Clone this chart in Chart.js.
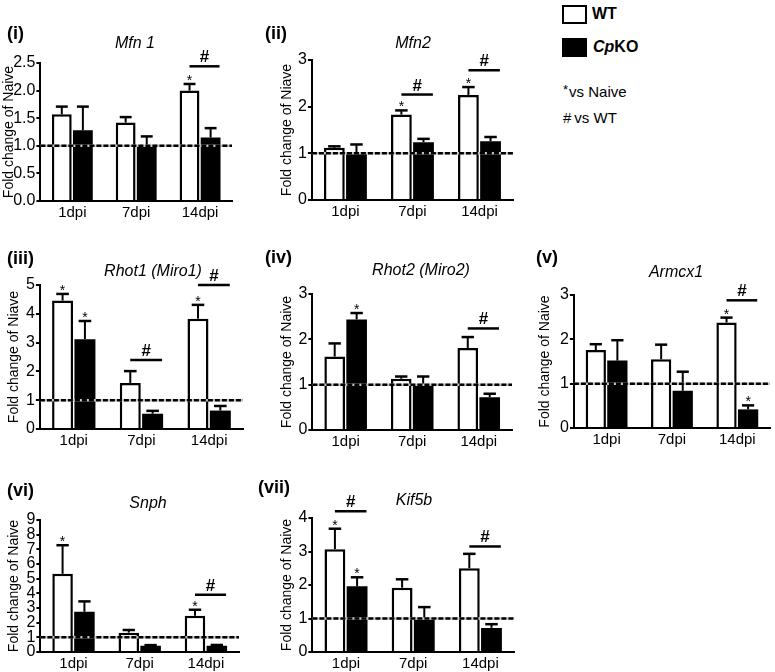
<!DOCTYPE html>
<html>
<head>
<meta charset="utf-8">
<script src="https://cdn.jsdelivr.net/npm/chart.js@4.4.1/dist/chart.umd.min.js"></script>
<style>
    body {
        margin: 0;
        width: 775px;
        height: 672px;
        position: relative;
        overflow: hidden;
        background: #fff;
        color: #000;
        font-family: "Liberation Sans", Arial, sans-serif;
    }
    canvas { position: absolute; }
    .panel-label {
        position: absolute;
        font-size: 18px;
        font-weight: bold;
        line-height: 1;
        transform: translateY(-50%);
    }
    .gene {
        position: absolute;
        font-size: 16px;
        font-style: italic;
        line-height: 1;
        white-space: nowrap;
        transform: translate(-50%, -50%);
    }
    .legend-box {
        position: absolute;
        left: 562px;
        width: 25px;
        height: 19px;
        box-sizing: border-box;
        border: 2px solid #000;
    }
    .legend-text {
        position: absolute;
        font-size: 15px;
        line-height: 1;
        white-space: nowrap;
        transform: translateY(-50%);
    }
</style>
</head>
<body>
<div class="legend-box" style="top:5px;background:#fff"></div>
<div class="legend-box" style="top:38px;background:#000"></div>
<div class="legend-text" style="left:592px;top:14px;font-weight:bold;font-size:16px">WT</div>
<div class="legend-text" style="left:593px;top:47px;font-weight:bold;font-size:16px"><i>Cp</i>KO</div>
<div class="legend-text" style="left:563px;top:91px"><span style="font-size:13px;position:relative;top:-3px;margin-right:1px">*</span>vs Naive</div>
<div class="legend-text" style="left:563px;top:117px">#<span style="margin-left:3px">vs WT</span></div>

<script>
const timePoints = ["1dpi", "7dpi", "14dpi"];

// (i) Mfn 1
const mfn1Wt = [1.57, 1.42, 2.0];
const mfn1WtSem = [0.14, 0.1, 0.12];
const mfn1Ko = [1.28, 1.0, 1.15];
const mfn1KoSem = [0.43, 0.17, 0.17];
const mfn1Stars = [["wt", 2]];
const mfn1Hashes = [[2, 2.44]];
const mfn1Ticks = [2.5, 0.5];

// (ii) Mfn2
const mfn2Wt = [1.12, 1.83, 2.25];
const mfn2WtSem = [0.03, 0.09, 0.17];
const mfn2Ko = [1.0, 1.24, 1.26];
const mfn2KoSem = [0.19, 0.07, 0.09];
const mfn2Stars = [["wt", 1], ["wt", 2]];
const mfn2Hashes = [[1, 2.26], [2, 2.78]];
const mfn2Ticks = [3, 1];

// (iii) Rhot1 (Miro1)
const rhot1Wt = [4.46, 1.6, 3.83];
const rhot1WtSem = [0.23, 0.41, 0.48];
const rhot1Ko = [3.12, 0.53, 0.64];
const rhot1KoSem = [0.63, 0.1, 0.16];
const rhot1Stars = [["wt", 0], ["ko", 0], ["wt", 2]];
const rhot1Hashes = [[1, 2.4], [2, 5.0]];
const rhot1Ticks = [5, 1];

// (iv) Rhot2 (Miro2)
const rhot2Wt = [1.62, 1.13, 1.81];
const rhot2WtSem = [0.29, 0.05, 0.24];
const rhot2Ko = [2.44, 1.0, 0.72];
const rhot2KoSem = [0.14, 0.18, 0.08];
const rhot2Stars = [["ko", 0]];
const rhot2Hashes = [[2, 2.24]];
const rhot2Ticks = [3, 1];

// (v) Armcx1
const armcx1Wt = [1.76, 1.55, 2.38];
const armcx1WtSem = [0.13, 0.33, 0.11];
const armcx1Ko = [1.52, 0.84, 0.42];
const armcx1KoSem = [0.46, 0.43, 0.09];
const armcx1Stars = [["wt", 2], ["ko", 2]];
const armcx1Hashes = [[2, 2.88]];
const armcx1Ticks = [3, 1];

// (vi) Snph
const snphWt = [5.33, 1.32, 2.47];
const snphWtSem = [1.95, 0.18, 0.41];
const snphKo = [2.74, 0.43, 0.43];
const snphKoSem = [0.71, 0.04, 0.05];
const snphStars = [["wt", 0], ["wt", 2]];
const snphHashes = [[2, 3.9]];
const snphTicks = [9, 1];

// (vii) Kif5b
const kif5bWt = [3.07, 1.92, 2.5];
const kif5bWtSem = [0.61, 0.25, 0.43];
const kif5bKo = [1.96, 0.97, 0.72];
const kif5bKoSem = [0.27, 0.37, 0.11];
const kif5bStars = [["wt", 0], ["ko", 0]];
const kif5bHashes = [[0, 4.2], [2, 3.15]];
const kif5bTicks = [4, 1];

const FONT = "'Liberation Sans', Arial, sans-serif";
Chart.defaults.font.family = FONT;
Chart.defaults.color = "#000";

// box = [left, right, top, bottom] of the plot area, titleX = centre of the y title
const panels = [
    { tag: "(i)", gene: "Mfn 1", yTitle: "Fold change of Naive", wt: mfn1Wt, wtSem: mfn1WtSem, ko: mfn1Ko, koSem: mfn1KoSem,
      stars: mfn1Stars, hashes: mfn1Hashes, ticks: mfn1Ticks, decimals: 1,
      box: [40, 232, 63, 201], titleX: 9, tagPos: [7, 33], genePos: [135, 43] },
    { tag: "(ii)", gene: "Mfn2", yTitle: "Fold change of Niave", wt: mfn2Wt, wtSem: mfn2WtSem, ko: mfn2Ko, koSem: mfn2KoSem,
      stars: mfn2Stars, hashes: mfn2Hashes, ticks: mfn2Ticks, decimals: 0,
      box: [312, 513, 60, 200], titleX: 287.5, tagPos: [265, 33], genePos: [413, 43] },
    { tag: "(iii)", gene: "Rhot1 (Miro1)", yTitle: "Fold change of Niave", wt: rhot1Wt, wtSem: rhot1WtSem, ko: rhot1Ko, koSem: rhot1KoSem,
      stars: rhot1Stars, hashes: rhot1Hashes, ticks: rhot1Ticks, decimals: 0,
      box: [40, 243, 285, 429], titleX: 14.5, tagPos: [7, 258], genePos: [153, 271] },
    { tag: "(iv)", gene: "Rhot2 (Miro2)", yTitle: "Fold change of Naive", wt: rhot2Wt, wtSem: rhot2WtSem, ko: rhot2Ko, koSem: rhot2KoSem,
      stars: rhot2Stars, hashes: rhot2Hashes, ticks: rhot2Ticks, decimals: 0,
      box: [312, 512, 294, 430], titleX: 287, tagPos: [265, 257], genePos: [421, 270] },
    { tag: "(v)", gene: "Armcx1", yTitle: "Fold change of Naive", wt: armcx1Wt, wtSem: armcx1WtSem, ko: armcx1Ko, koSem: armcx1KoSem,
      stars: armcx1Stars, hashes: armcx1Hashes, ticks: armcx1Ticks, decimals: 0,
      box: [574, 770, 295, 428], titleX: 545.5, tagPos: [536, 257], genePos: [676, 272] },
    { tag: "(vi)", gene: "Snph", yTitle: "Fold change of Naive", wt: snphWt, wtSem: snphWtSem, ko: snphKo, koSem: snphKoSem,
      stars: snphStars, hashes: snphHashes, ticks: snphTicks, decimals: 0,
      box: [40, 239, 520, 652], titleX: 14, tagPos: [7, 490], genePos: [148, 503] },
    { tag: "(vii)", gene: "Kif5b", yTitle: "Fold change of Naive", wt: kif5bWt, wtSem: kif5bWtSem, ko: kif5bKo, koSem: kif5bKoSem,
      stars: kif5bStars, hashes: kif5bHashes, ticks: kif5bTicks, decimals: 0,
      box: [312, 514, 518, 652], titleX: 287, tagPos: [258, 487], genePos: [414, 500] },
];

// error bars, dashed naive line, * and # marks
const markers = {
    id: "markers",
    afterDraw(chart, args, opts) {
        const { ctx, chartArea } = chart;
        const yScale = chart.scales.y;
        const metas = { wt: chart.getDatasetMeta(0), ko: chart.getDatasetMeta(1) };
        const tops = { wt: [], ko: [] };

        ctx.save();
        ctx.strokeStyle = "#000";
        for (const key of ["wt", "ko"]) {
            const values = opts[key];
            const sem = opts[key + "Sem"];
            metas[key].data.forEach((bar, i) => {
                const top = yScale.getPixelForValue(values[i] + sem[i]);
                tops[key][i] = top;
                const half = bar.width * 0.3;
                ctx.lineWidth = 2;
                ctx.beginPath();
                ctx.moveTo(bar.x, bar.y);
                ctx.lineTo(bar.x, top);
                ctx.stroke();
                ctx.lineWidth = 2.5;
                ctx.beginPath();
                ctx.moveTo(bar.x - half, top);
                ctx.lineTo(bar.x + half, top);
                ctx.stroke();
            });
        }

        const naiveY = yScale.getPixelForValue(1);
        ctx.lineWidth = 2.5;
        ctx.strokeStyle = "#c8c8c8";
        ctx.beginPath();
        ctx.moveTo(chartArea.left, naiveY);
        ctx.lineTo(chartArea.right, naiveY);
        ctx.stroke();
        ctx.setLineDash([5, 2]);
        ctx.strokeStyle = "#000";
        ctx.beginPath();
        ctx.moveTo(chartArea.left, naiveY);
        ctx.lineTo(chartArea.right, naiveY);
        ctx.stroke();
        ctx.setLineDash([]);

        ctx.fillStyle = "#000";
        ctx.textAlign = "center";
        ctx.textBaseline = "alphabetic";
        ctx.font = "14px " + FONT;
        for (const [key, i] of opts.stars) {
            ctx.fillText("*", metas[key].data[i].x, tops[key][i] + 1);
        }

        ctx.font = "bold 17px " + FONT;
        ctx.lineWidth = 2.5;
        for (const [i, value] of opts.hashes) {
            const wtBar = metas.wt.data[i];
            const koBar = metas.ko.data[i];
            const x1 = wtBar.x;
            const x2 = koBar.x + koBar.width * 0.45;
            const py = yScale.getPixelForValue(value);
            ctx.beginPath();
            ctx.moveTo(x1, py);
            ctx.lineTo(x2, py);
            ctx.stroke();
            ctx.fillText("#", (x1 + x2) / 2, py - 4);
        }
        ctx.restore();
    },
};

function addText(cls, text, x, y) {
    const div = document.createElement("div");
    div.className = cls;
    div.textContent = text;
    div.style.left = x + "px";
    div.style.top = y + "px";
    document.body.appendChild(div);
}

function makePanel(panel) {
    const [left, right, top, bottom] = panel.box;
    const padTop = 30;
    const padRight = 14;
    const xAxisHeight = 24;
    const canvasLeft = panel.titleX - 8.4;
    const canvasTop = top - padTop;
    const yAxisWidth = left - canvasLeft;

    const canvas = document.createElement("canvas");
    canvas.width = Math.round(right + padRight - canvasLeft);
    canvas.height = Math.round(bottom + xAxisHeight - canvasTop);
    canvas.style.left = canvasLeft + "px";
    canvas.style.top = canvasTop + "px";
    document.body.appendChild(canvas);

    addText("panel-label", panel.tag, panel.tagPos[0], panel.tagPos[1]);
    addText("gene", panel.gene, panel.genePos[0], panel.genePos[1]);

    new Chart(canvas, {
        type: "bar",
        data: {
            labels: timePoints,
            datasets: [
                { label: "WT", data: panel.wt, backgroundColor: "#fff", borderColor: "#000", borderWidth: 2.5 },
                { label: "CpKO", data: panel.ko, backgroundColor: "#000", borderWidth: 0 },
            ],
        },
        options: {
            responsive: false,
            animation: false,
            events: [],
            devicePixelRatio: 1,
            categoryPercentage: 0.66,
            barPercentage: 0.94,
            layout: { padding: { top: padTop, right: padRight, left: 0, bottom: 0 } },
            plugins: {
                legend: { display: false },
                tooltip: { enabled: false },
                markers: {
                    wt: panel.wt,
                    wtSem: panel.wtSem,
                    ko: panel.ko,
                    koSem: panel.koSem,
                    stars: panel.stars,
                    hashes: panel.hashes,
                },
            },
            scales: {
                x: {
                    grid: { display: false, drawTicks: false },
                    border: { display: true, color: "#000", width: 2 },
                    ticks: { font: { size: 15 }, color: "#000", padding: 3 },
                    afterFit: (scale) => { scale.height = xAxisHeight; },
                },
                y: {
                    min: 0,
                    max: panel.ticks[0],
                    ticks: {
                        stepSize: panel.ticks[1],
                        autoSkip: false,
                        font: { size: 16 },
                        color: "#000",
                        padding: 1,
                        callback: (value) => Number(value).toFixed(panel.decimals),
                    },
                    grid: { drawOnChartArea: false, tickLength: 4, color: "#000", lineWidth: 2 },
                    border: { color: "#000", width: 2 },
                    title: {
                        display: true,
                        text: panel.yTitle,
                        font: { size: 14 },
                        color: "#000",
                        padding: { top: 0, bottom: 0 },
                    },
                    afterFit: (scale) => { scale.width = yAxisWidth; },
                },
            },
        },
        plugins: [markers],
    });
}

panels.forEach(makePanel);
</script>
</body>
</html>
